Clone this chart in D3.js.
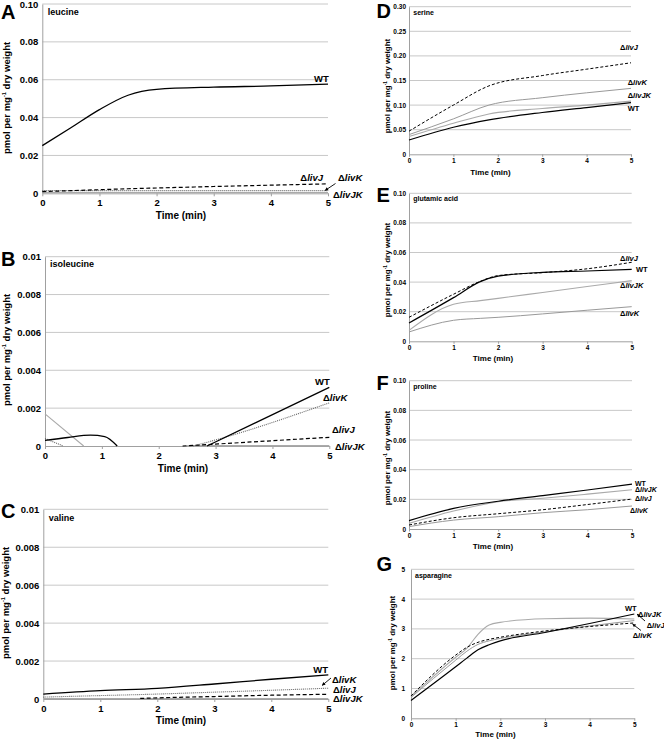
<!DOCTYPE html>
<html><head><meta charset="utf-8">
<script src="https://cdn.jsdelivr.net/npm/d3@7"></script>
<style>
body{margin:0;background:#fff}
svg{display:block}
text{font-family:"Liberation Sans",Arial,Helvetica,sans-serif;font-weight:bold;fill:#000}
</style>
</head><body>
<svg id="chart" width="664" height="741"></svg>
<script>
// ---------------- DATA ----------------
const xTickLabels = ["0","1","2","3","4","5"];

// A leucine
const leuTime = [0,0.5,1,1.5,2,3,4,5];
const leuWT    = [0.0252,0.0346,0.0442,0.0518,0.0549,0.0561,0.0567,0.0577];
const leuLivJ  = [0.0009,0.0014,0.0019,0.0024,0.0028,0.0036,0.0043,0.0050];
const leuLivK  = [0.0014,0.0014,0.0014,0.0014,0.0014,0.0014,0.0014,0.0014];
const leuLivJK = [0.0004,0.0004,0.0004,0.0004,0.0004,0.0004,0.0004,0.0004];
const leuYTicks = ["0","0.02","0.04","0.06","0.08","0.10"];

// B isoleucine (null = gap)
const ileTimeWT  = [0,0.4,0.8,1.05,1.27,2,2.85,5];
const ileWT      = [0.0003,0.00045,0.00057,0.0005,0,null,0,0.0031];
const ileTimeK   = [0,0.32,1,2.6,3,5];
const ileLivK    = [0.0004,0,null,0,0.00032,0.00228];
const ileTimeJK  = [0,0.68,1,2.5,5];
const ileLivJK   = [0.0017,0,null,0.00002,0.00002];
const ileTimeJ   = [2.42,3,4,5];
const ileLivJ    = [0,0.0001,0.00028,0.00046];
const ileYTicks = ["0","0.002","0.004","0.006","0.008","0.01"];

// C valine
const valTime = [0,1,2,3,4,5];
const valWT    = [0.00026,0.00044,0.00056,0.00079,0.00104,0.00127];
const valLivK  = [0.0001,0.00018,0.00026,0.00036,0.00046,0.00057];
const valTimeJ = [1.7,2,3,4,5];
const valLivJ  = [0.00003,0.00006,0.00013,0.0002,0.00025];
const valLivJK = [0.00003,0.00003,0.00003,0.00003,0.00003,0.00003];
const valYTicks = ["0","0.002","0.004","0.006","0.008","0.01"];

// D serine
const serTime = [0,1,1.8,3,4,5];
const serWT    = [0.029,0.055,0.070,0.085,0.095,0.105];
const serLivJ  = [0.047,0.100,0.139,0.160,0.173,0.186];
const serLivK  = [0.040,0.072,0.100,0.115,0.125,0.134];
const serLivJK = [0.036,0.063,0.082,0.093,0.100,0.108];
const serYTicks = ["0","0.05","0.10","0.15","0.20","0.25","0.30"];

// E glutamic acid
const gluTime = [0,1,1.6,2,3,4,5];
const gluWT    = [0.0124,0.0295,0.0403,0.0440,0.0466,0.0475,0.0486];
const gluLivJ  = [0.0162,0.0318,0.0405,0.0444,0.0464,0.0490,0.0534];
const gluLivJK = [0.0074,0.0250,0.0275,0.0290,0.0330,0.0370,0.0410];
const gluLivK  = [0.0063,0.0142,0.0155,0.0162,0.0185,0.0210,0.0234];
const gluYTicks = ["0","0.02","0.04","0.06","0.08","0.10"];

// F proline
const proTime = [0,1,2,3,4,5];
const proWT    = [0.0056,0.0139,0.0187,0.0225,0.0263,0.0303];
const proLivJK = [0.0038,0.0121,0.0184,0.0207,0.0235,0.0265];
const proLivJ  = [0.0027,0.0076,0.0103,0.0130,0.0165,0.0202];
const proLivK  = [0.0016,0.0060,0.0083,0.0110,0.0130,0.0155];
const proYTicks = ["0","0.02","0.04","0.06","0.08","0.10"];

// G asparagine
const asnTime = [0,1,1.25,1.5,1.75,2,3,4,5];
const asnWT    = [0.60,1.73,2.02,2.30,2.47,2.60,2.88,3.18,3.50];
const asnLivJ  = [0.75,2.12,2.38,2.55,2.65,2.72,2.93,3.08,3.20];
const asnLivK  = [0.70,1.95,2.25,2.48,2.60,2.68,2.90,3.10,3.28];
const asnLivJK = [0.73,2.05,2.35,2.82,3.13,3.22,3.34,3.36,3.33];
const asnYTicks = ["0","1","2","3","4","5"];

// ---------------- STYLES ----------------
const FONT = '"Liberation Sans",Arial,Helvetica,sans-serif';
const styleWT   = {stroke:"#000", width:1.3, dash:null};
const styleJ    = {stroke:"#000", width:1.2, dash:"4,2.5"};
const styleKdot = {stroke:"#666", width:1.1, dash:"1,1"};
const styleJK   = {stroke:"#aaa", width:1.1, dash:null};
const styleKr   = {stroke:"#999", width:1, dash:null};
const styleWTr  = {stroke:"#000", width:1.2, dash:null};
const styleJr   = {stroke:"#000", width:1, dash:"3,2"};

const svg = d3.select("#chart");

function zip(t, v){ return t.map((d,i)=>[d, v[i]]); }

function addSeriesLabel(g, lab, fs){
  const t = g.append("text").attr("x", lab.x).attr("y", lab.y)
    .attr("font-size", fs).attr("text-anchor", lab.anchor || "start");
  if (lab.text.startsWith("Δ")) {
    t.append("tspan").text("Δ");
    t.append("tspan").attr("font-style","italic").text(lab.text.slice(1));
  } else {
    t.text(lab.text);
  }
}

function drawPanel(c){
  const g = svg.append("g");
  const x = d3.scaleLinear().domain([0,5]).range([c.x0,c.x1]);
  const yMax = +c.yTicks[c.yTicks.length-1];
  const y = d3.scaleLinear().domain([0,yMax]).range([c.y1,c.y0]);
  const yVals = c.yTicks.map(Number);

  // gridlines
  g.selectAll("line.grid").data(yVals.filter(v=>v>0)).join("line")
    .attr("x1", c.x0).attr("x2", c.x1)
    .attr("y1", d=>y(d)).attr("y2", d=>y(d))
    .attr("stroke","#c8c8c8").attr("stroke-width",1);

  // y axis
  const ya = g.append("g").attr("transform",`translate(${c.x0},0)`)
    .call(d3.axisLeft(y).tickValues(yVals).tickFormat((d,i)=>c.yTicks[i]).tickSize(0).tickPadding(c.ypad));
  ya.select(".domain").attr("stroke","#a0a0a0").attr("stroke-width",1);
  ya.selectAll("text").attr("font-size", c.tickFs).attr("font-family",FONT).attr("font-weight","bold").attr("fill","#000");

  // x axis
  const xa = g.append("g").attr("transform",`translate(0,${c.y1})`)
    .call(d3.axisBottom(x).tickValues(xTickLabels.map(Number)).tickFormat((d,i)=>xTickLabels[i]).tickSize(c.tickLen).tickSizeOuter(0).tickPadding(c.xpad));
  xa.select(".domain").attr("stroke","#a0a0a0").attr("stroke-width",1);
  xa.selectAll(".tick line").attr("stroke","#a0a0a0");
  xa.selectAll("text").attr("font-size", c.tickFs).attr("font-family",FONT).attr("font-weight","bold").attr("fill","#000");

  // series
  const line = d3.line().defined(d=>d[1]!==null).x(d=>x(d[0])).y(d=>y(d[1])).curve(d3.curveMonotoneX);
  c.series.forEach(s=>{
    g.append("path").attr("d", line(zip(s.t, s.v)))
      .attr("fill","none").attr("stroke", s.style.stroke)
      .attr("stroke-width", s.style.width)
      .attr("stroke-dasharray", s.style.dash);
  });

  // panel letter
  g.append("text").attr("x", c.letterX).attr("y", c.letterY).attr("font-size", c.letterFs).text(c.letter);
  // amino acid title
  g.append("text").attr("x", c.titleX).attr("y", c.titleY).attr("font-size", c.titleFs).text(c.title);
  // y title
  const yt = g.append("text").attr("transform",`translate(${c.ytX},${c.ytY}) rotate(-90)`)
    .attr("text-anchor","middle").attr("font-size", c.ytFs);
  yt.append("tspan").text("pmol per mg");
  yt.append("tspan").attr("font-size", c.ytFs*0.6).attr("dy", -c.ytFs*0.4).text("-1");
  yt.append("tspan").attr("dy", c.ytFs*0.4).text(" dry weight");
  // x title
  g.append("text").attr("x", c.xtX).attr("y", c.xtY).attr("text-anchor","middle")
    .attr("font-size", c.xtFs).text("Time (min)");
  // series labels
  c.labels.forEach(l=>addSeriesLabel(g, l, c.labFs));
  // arrows
  (c.arrows||[]).forEach(a=>{
    g.append("line").attr("x1",a[0]).attr("y1",a[1]).attr("x2",a[2]).attr("y2",a[3])
      .attr("stroke","#000").attr("stroke-width",0.9);
    const ang = Math.atan2(a[3]-a[1], a[2]-a[0]);
    const L = 3.2, W = 1.8;
    const bx = a[2]-L*Math.cos(ang), by = a[3]-L*Math.sin(ang);
    const px = -Math.sin(ang)*W, py = Math.cos(ang)*W;
    g.append("path").attr("d",`M${a[2]},${a[3]}L${bx+px},${by+py}L${bx-px},${by-py}Z`).attr("fill","#000");
  });
}

const left = {letterX:1, letterFs:20, titleFs:9, tickFs:9.5, ytFs:9.5, xtFs:10, labFs:9.5, ypad:4, xpad:3, tickLen:3};
const right = {letterX:376.5, letterFs:20, titleFs:7, tickFs:6.5, ytFs:8, xtFs:8, labFs:7.5, ypad:3, xpad:2, tickLen:2.5};

const panels = [
  Object.assign({}, left, {letter:"A", title:"leucine", x0:42.3, x1:328, y0:4, y1:193.3, yTicks:leuYTicks,
    letterY:18.5, titleX:47.7, titleY:15, ytX:10, ytY:98, xtX:181, xtY:219,
    series:[
      {t:leuTime, v:leuLivJK, style:styleJK},
      {t:leuTime, v:leuLivK, style:styleKdot},
      {t:leuTime, v:leuLivJ, style:styleJ},
      {t:leuTime, v:leuWT, style:styleWT}],
    labels:[{text:"WT",x:314,y:81.5},{text:"ΔlivJ",x:323,y:181,anchor:"end"},{text:"ΔlivK",x:338,y:181},{text:"ΔlivJK",x:333,y:197.5}],
    arrows:[[335.5,183.5,325,190.5]]}),
  Object.assign({}, left, {letter:"B", title:"isoleucine", x0:45, x1:329.3, y0:256.7, y1:446, yTicks:ileYTicks,
    letterY:266, titleX:50, titleY:266.5, ytX:10, ytY:350, xtX:183, xtY:471.5,
    series:[
      {t:ileTimeJK, v:ileLivJK, style:styleJK},
      {t:ileTimeK, v:ileLivK, style:styleKdot},
      {t:ileTimeJ, v:ileLivJ, style:styleJ},
      {t:ileTimeWT, v:ileWT, style:styleWT}],
    labels:[{text:"WT",x:315,y:385},{text:"ΔlivK",x:323,y:400.5},{text:"ΔlivJ",x:332,y:433},{text:"ΔlivJK",x:335,y:450}]}),
  Object.assign({}, left, {letter:"C", title:"valine", x0:43.3, x1:328.3, y0:509.3, y1:699, yTicks:valYTicks,
    letterY:518, titleX:48.7, titleY:521, ytX:9, ytY:603, xtX:181, xtY:724,
    series:[
      {t:valTime, v:valLivJK, style:styleJK},
      {t:valTime, v:valLivK, style:styleKdot},
      {t:valTimeJ, v:valLivJ, style:styleJ},
      {t:valTime, v:valWT, style:styleWT}],
    labels:[{text:"WT",x:313.3,y:672.5},{text:"ΔlivK",x:332,y:683},{text:"ΔlivJ",x:333,y:692.5},{text:"ΔlivJK",x:333,y:702}],
    arrows:[[331,678,322,685.5]]}),
  Object.assign({}, right, {letter:"D", title:"serine", x0:409, x1:631, y0:6.7, y1:154.3, yTicks:serYTicks,
    letterY:17.5, titleX:413.3, titleY:15, ytX:390, ytY:86, xtX:490.5, xtY:175,
    series:[
      {t:serTime, v:serLivJK, style:styleJK},
      {t:serTime, v:serLivK, style:styleKr},
      {t:serTime, v:serLivJ, style:styleJr},
      {t:serTime, v:serWT, style:styleWTr}],
    labels:[{text:"ΔlivJ",x:620,y:50},{text:"ΔlivK",x:627.7,y:85},{text:"ΔlivJK",x:627.7,y:98},{text:"WT",x:627.7,y:111}]}),
  Object.assign({}, right, {letter:"E", title:"glutamic acid", x0:409, x1:631.7, y0:193.3, y1:341.3, yTicks:gluYTicks,
    letterY:201.7, titleX:413.3, titleY:200.5, ytX:390, ytY:270, xtX:493, xtY:361,
    series:[
      {t:gluTime, v:gluLivJK, style:styleJK},
      {t:gluTime, v:gluLivK, style:styleKr},
      {t:gluTime, v:gluLivJ, style:styleJr},
      {t:gluTime, v:gluWT, style:styleWTr}],
    labels:[{text:"ΔlivJ",x:620,y:261},{text:"WT",x:636,y:272},{text:"ΔlivJK",x:620,y:288},{text:"ΔlivK",x:620,y:315.7}]}),
  Object.assign({}, right, {letter:"F", title:"proline", x0:409, x1:632, y0:380.7, y1:529, yTicks:proYTicks,
    letterY:390, titleX:413.3, titleY:388.5, ytX:390, ytY:458, xtX:493, xtY:549, labFs:7,
    series:[
      {t:proTime, v:proLivK, style:styleKr},
      {t:proTime, v:proLivJK, style:styleJK},
      {t:proTime, v:proLivJ, style:styleJr},
      {t:proTime, v:proWT, style:styleWTr}],
    labels:[{text:"WT",x:635,y:485.7},{text:"ΔlivJK",x:635,y:492.3},{text:"ΔlivJ",x:635,y:500.7},{text:"ΔlivK",x:630,y:513.3}]}),
  Object.assign({}, right, {letter:"G", title:"asparagine", x0:411, x1:634.3, y0:569.3, y1:718.3, yTicks:asnYTicks,
    letterY:571, titleX:415, titleY:578, ytX:395, ytY:643, xtX:495.5, xtY:737, ypad:6,
    series:[
      {t:asnTime, v:asnLivJK, style:styleJK},
      {t:asnTime, v:asnLivK, style:styleKr},
      {t:asnTime, v:asnLivJ, style:styleJr},
      {t:asnTime, v:asnWT, style:styleWTr}],
    labels:[{text:"WT",x:625,y:610.7},{text:"ΔlivJK",x:638,y:616.7},{text:"ΔlivJ",x:646.7,y:627.7},{text:"ΔlivK",x:632.7,y:637.5}],
    arrows:[[645,621,637,614],[641,630.5,632.5,624]]})
];

panels.forEach(drawPanel);
</script>
</body></html>
